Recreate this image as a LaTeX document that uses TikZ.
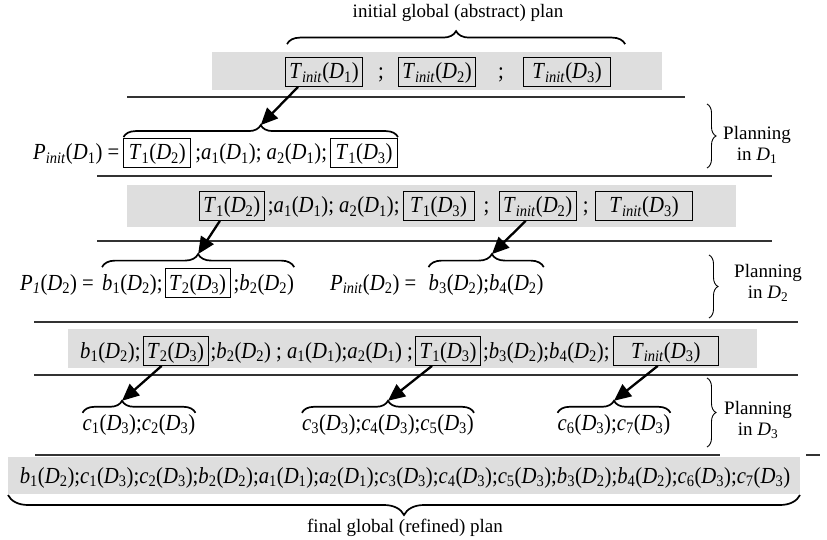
\documentclass[tikz,border=0pt]{standalone}
\usepackage{fontspec}
\setmainfont{Liberation Serif}
\newfontfamily\plfont[FakeStretch=0.9]{Liberation Serif}
\usetikzlibrary{decorations.pathreplacing,arrows.meta,calc}
\newcommand{\tv}[3]{\textit{#1}\textsubscript{#2}(\textit{D}\textsubscript{#3})}
\newcommand{\ini}{\textit{init}}
\begin{document}
\begin{tikzpicture}[x=1pt,y=-1pt,
  every node/.style={font=\plfont\fontsize{23}{27}\selectfont, inner sep=0pt},
  bx/.style={draw, line width=0.8pt, inner xsep=4pt, inner ysep=2.5pt, text height=19pt, text depth=5pt, anchor=base west},
  tx/.style={anchor=base west, text height=19pt, text depth=5pt},
  lbl/.style={font=\fontsize{19}{21}\selectfont, align=center},
  band/.style={fill=black!13, draw=none},
  sepline/.style={line width=1.3pt, black!80},
  brc/.style={decorate, decoration={brace, amplitude=#1}, line width=1.7pt},
  brc/.default=12pt,
  pbrc/.style={decorate, decoration={brace, amplitude=9pt}, line width=0.9pt},
  arr/.style={line width=2.3pt, -{Triangle[length=17pt,width=15pt]}}
]
\useasboundingbox (0,0) rectangle (827,540);
% gray bands
\fill[band] (212,52) rectangle (662,90);
\fill[band] (127,185) rectangle (736,227);
\fill[band] (68,329) rectangle (757,368);
\fill[band] (8,457) rectangle (800,494);
% separator lines
\draw[sepline] (127,97) -- (685,97);
\draw[sepline] (97,176) -- (772,176);
\draw[sepline] (97,241) -- (772,241);
\draw[sepline] (34,322) -- (798,322);
\draw[sepline] (34,375) -- (798,375);
\draw[sepline] (35,455) -- (720,455);
\draw[sepline] (806,455) -- (820,455);

% title
\node[lbl] (title) at (458,13) {initial global (abstract) plan};

% row 1
\node[bx] (r1a) at (285,79) {\tv{T}{\ini}{1}};
\node[tx, anchor=base] (r1s1) at (381,79) {;};
\node[bx] (r1b) at (398,79) {\tv{T}{\ini}{2}};
\node[tx, anchor=base] (r1s2) at (501,79) {;};
\node[bx, inner xsep=9pt] (r1c) at (523,79) {\tv{T}{\ini}{3}};
\draw[brc=13pt] ([shift={(2pt,13pt)}]r1a.north west) -- ([shift={(14pt,13pt)}]r1c.north east);

% row 2
\node[tx] (r2p) at (33,160) {\textit{P}\textsubscript{\ini}(\textit{D}\textsubscript{1}) =};
\node[bx, inner xsep=5pt] (r2a) at ([xshift=4pt]r2p.base east) {\tv{T}{1}{2}};
\node[tx] (r2t) at ([xshift=4pt]r2a.base east) {;\tv{a}{1}{1}; \tv{a}{2}{1};};
\node[bx, inner xsep=5pt] (r2b) at ([xshift=3pt]r2t.base east) {\tv{T}{1}{3}};
\coordinate (b2l) at ([yshift=1pt]r2a.north west);
\coordinate (b2r) at ([yshift=1pt]r2b.north east);
\draw[brc=12pt] (b2l) -- (b2r);
\path ($(b2l)!0.5!(b2r)$) ++(0,-12) coordinate (k2);
\draw[arr] ([xshift=-26pt]r1a.south) -- (k2);
\draw[pbrc] (707,104) -- (707,168);
\node[lbl] (pl1) at (757,145) {Planning\\in \textit{D}\textsubscript{1}};

% row 3
\node[bx] (r3a) at (199,213) {\tv{T}{1}{2}};
\node[tx] (r3t) at ([xshift=3pt]r3a.base east) {;\tv{a}{1}{1}; \tv{a}{2}{1};};
\node[bx, inner xsep=7pt] (r3b) at ([xshift=3pt]r3t.base east) {\tv{T}{1}{3}};
\node[tx] (r3s1) at ([xshift=9pt]r3b.base east) {;};
\node[bx] (r3c) at ([xshift=9pt]r3s1.base east) {\tv{T}{\ini}{2}};
\node[tx] (r3s2) at ([xshift=6pt]r3c.base east) {;};
\node[bx, inner xsep=14pt] (r3d) at ([xshift=6pt]r3s2.base east) {\tv{T}{\ini}{3}};

% row 4
\node[tx] (r4p) at (20,290) {\textit{P}\textsubscript{\textit{1}}(\textit{D}\textsubscript{2}) =};
\node[tx] (r4t1) at (102,290) {\tv{b}{1}{2};};
\node[bx] (r4a) at ([xshift=2pt]r4t1.base east) {\tv{T}{2}{3}};
\node[tx] (r4t2) at ([xshift=3pt]r4a.base east) {;\tv{b}{2}{2}};
\node[tx] (r4q) at (330,290) {\textit{P}\textsubscript{\ini}(\textit{D}\textsubscript{2}) =};
\node[tx] (r4t3) at ([xshift=12pt]r4q.base east) {\tv{b}{3}{2};\tv{b}{4}{2}};
\coordinate (b4l) at ([yshift=1pt]r4t1.north west |- r4a.north);
\coordinate (b4r) at ([yshift=1pt]r4t2.north east |- r4a.north);
\draw[brc=13pt] (b4l) -- (b4r);
\path ($(b4l)!0.5!(b4r)$) ++(0,-13) coordinate (k4a);
\coordinate (b4m) at ([yshift=1pt]r4t3.north west |- r4a.north);
\coordinate (b4n) at ([yshift=1pt]r4t3.north east |- r4a.north);
\draw[brc=13pt, decoration={aspect=0.55}] (b4m) -- (b4n);
\path ($(b4m)!0.55!(b4n)$) ++(0,-13) coordinate (k4b);
\draw[arr] ([xshift=-12pt]r3a.south) -- (k4a);
\draw[arr] ([xshift=-12pt]r3c.south) -- (k4b);
\draw[pbrc] (709,255) -- (709,318);
\node[lbl] (pl2) at (768,283) {Planning\\in \textit{D}\textsubscript{2}};

% row 5
\node[tx] (r5t1) at (80,358) {\tv{b}{1}{2};};
\node[bx] (r5a) at ([xshift=2pt]r5t1.base east) {\tv{T}{2}{3}};
\node[tx] (r5t2) at ([xshift=2pt]r5a.base east) {;\tv{b}{2}{2} ; \tv{a}{1}{1};\tv{a}{2}{1} ;};
\node[bx] (r5b) at ([xshift=2pt]r5t2.base east) {\tv{T}{1}{3}};
\node[tx] (r5t3) at ([xshift=2pt]r5b.base east) {;\tv{b}{3}{2};\tv{b}{4}{2};};
\node[bx, inner xsep=18pt] (r5c) at ([xshift=3pt]r5t3.base east) {\tv{T}{\ini}{3}};

% row 6
\node[tx, anchor=base] (r6a) at (139,430) {\tv{c}{1}{3};\tv{c}{2}{3}};
\node[tx, anchor=base] (r6b) at (388,430) {\tv{c}{3}{3};\tv{c}{4}{3};\tv{c}{5}{3}};
\node[tx, anchor=base] (r6c) at (614,430) {\tv{c}{6}{3};\tv{c}{7}{3}};
\draw[brc=12pt, decoration={aspect=0.35}] ([yshift=-2pt]r6a.north west) -- ([yshift=-2pt]r6a.north east);
\path ($(r6a.north west)!0.35!(r6a.north east)$) ++(0,-10) coordinate (k6a);
\draw[brc=12pt] ([yshift=-2pt]r6b.north west) -- ([yshift=-2pt]r6b.north east);
\path ($(r6b.north west)!0.5!(r6b.north east)$) ++(0,-10) coordinate (k6b);
\draw[brc=12pt] ([yshift=-2pt]r6c.north west) -- ([yshift=-2pt]r6c.north east);
\path ($(r6c.north west)!0.5!(r6c.north east)$) ++(0,-10) coordinate (k6c);
\draw[arr] ([xshift=-14pt]r5a.south) -- (k6a);
\draw[arr] ([xshift=-16pt]r5b.south) -- (k6b);
\draw[arr] ([xshift=-8pt]r5c.south) -- (k6c);
\draw[pbrc] (707,378) -- (707,447);
\node[lbl] (pl3) at (758,420) {Planning\\in \textit{D}\textsubscript{3}};

% row 7
\node[tx, anchor=base] (r7) at (405,483) {\tv{b}{1}{2};\tv{c}{1}{3};\tv{c}{2}{3};\tv{b}{2}{2};\tv{a}{1}{1};\tv{a}{2}{1};\tv{c}{3}{3};\tv{c}{4}{3};\tv{c}{5}{3};\tv{b}{3}{2};\tv{b}{4}{2};\tv{c}{6}{3};\tv{c}{7}{3}};
\draw[brc=20pt] (800,495) -- (8,495);
\node[lbl] (final) at (405,528) {final global (refined) plan};
\end{tikzpicture}
\end{document}
